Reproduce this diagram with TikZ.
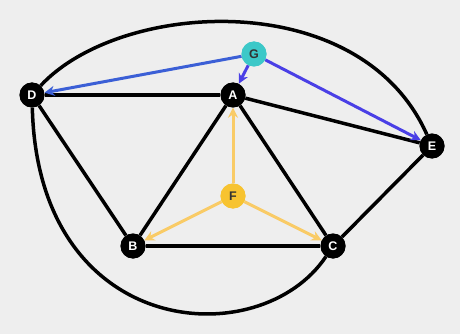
\documentclass[tikz,border=0pt]{standalone}
\usepackage{fontspec}
\setmainfont{Liberation Sans}
\usetikzlibrary{arrows.meta}
\definecolor{bg}{HTML}{EEEEEE}
\definecolor{teal}{HTML}{3CC8C8}
\definecolor{gold}{HTML}{F7C330}
\definecolor{goldline}{HTML}{F9CB66}
\definecolor{blueA}{HTML}{3B5FD6}
\definecolor{blueB}{HTML}{4A3FE6}
\begin{document}
\begin{tikzpicture}[x=1pt,y=-1pt,
  vtx/.style={circle,fill=black,text=white,font=\bfseries\fontsize{12.5}{13}\selectfont,minimum size=25pt,inner sep=0pt},
  edge/.style={line width=3.5pt,black},
  garrow/.style={line width=3pt,-{Stealth[length=10pt,width=10pt]}},
  farrow/.style={line width=3pt,goldline,-{Stealth[length=10pt,width=10pt]}}]
\fill[bg] (0,0) rectangle (460,334);
\useasboundingbox (0,0) rectangle (460,334);
\node[vtx] (D) at (32,95) {};
\node[vtx] (A) at (233,95) {};
\node[vtx] (E) at (432,146) {};
\node[vtx] (B) at (133,246) {};
\node[vtx] (C) at (333,246) {};
\node[vtx,fill=gold] (F) at (233,196) {};
\node[vtx,fill=teal] (G) at (254,54) {};
\draw[edge] (D) .. controls (120,0) and (360,-15) .. (E);
\draw[edge] (D) .. controls (38,340) and (260,355) .. (C);
\draw[edge] (D) -- (A);
\draw[edge] (A) -- (E);
\draw[edge] (D) -- (B);
\draw[edge] (A) -- (B);
\draw[edge] (A) -- (C);
\draw[edge] (B) -- (C);
\draw[edge] (C) -- (E);
\draw[garrow,blueA] (G) -- (D);
\draw[garrow,blueB] (G) -- (A);
\draw[garrow,blueB] (G) -- (E);
\draw[farrow] (F) -- (A);
\draw[farrow] (F) -- (B);
\draw[farrow] (F) -- (C);
\node[vtx] at (D) {D};
\node[vtx] at (A) {A};
\node[vtx] at (E) {E};
\node[vtx] at (B) {B};
\node[vtx] at (C) {C};
\node[vtx,fill=gold,text=black!80] at (F) {F};
\node[vtx,fill=teal,text=black!80] at (G) {G};
\end{tikzpicture}
\end{document}
